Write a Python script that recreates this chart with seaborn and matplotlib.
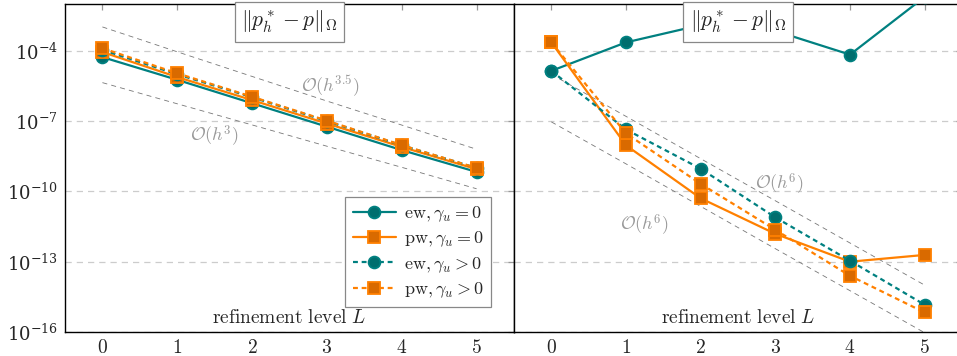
import numpy as np
import pandas as pd
import seaborn as sns
import matplotlib
matplotlib.use("Agg")
import matplotlib.pyplot as plt
from matplotlib.lines import Line2D
from matplotlib.ticker import LogFormatterMathtext, NullLocator, FuncFormatter

# ---------------- data ----------------
levels = [0, 1, 2, 3, 4, 5]
series_labels = [r"$\mathrm{ew},\gamma_u = 0$", r"$\mathrm{pw},\gamma_u = 0$",
                 r"$\mathrm{ew},\gamma_u > 0$", r"$\mathrm{pw},\gamma_u > 0$"]

# left panel
left_ew0 = [5.4e-5, 5.8e-6, 5.8e-7, 5.8e-8, 5.8e-9, 6.8e-10]
left_pw0 = [8.9e-5, 7.6e-6, 7.9e-7, 7.9e-8, 7.9e-9, 8.9e-10]
left_ewg = [1.1e-4, 1.0e-5, 1.05e-6, 1.0e-7, 9.3e-9, 1.0e-9]
left_pwg = [1.3e-4, 1.1e-5, 1.1e-6, 1.05e-7, 9.5e-9, 1.0e-9]
left_ref_upper = [1.05e-3, 9.1e-5, 8.1e-6, 7.2e-7, 6.8e-8, 6.3e-9]
left_ref_lower = [4.4e-6, 5.5e-7, 6.9e-8, 8.5e-9, 1.07e-9, 1.3e-10]
left_ref_texts = [r"$\mathcal{O}(h^{3.5})$", r"$\mathcal{O}(h^{3})$"]

# right panel
right_ew0 = [1.4e-5, 2.3e-4, 1.26e-3, 7.1e-4, 6.9e-5, 2.0e-2]
right_pw0 = [2.3e-4, 9.3e-9, 5.1e-11, 1.55e-12, 1.0e-13, 1.95e-13]
right_ewg = [1.4e-5, 4.4e-8, 9.3e-10, 7.8e-12, 1.1e-13, 1.45e-15]
right_pwg = [2.3e-4, 3.0e-8, 2.1e-10, 2.3e-12, 2.5e-14, 6.8e-16]
right_ref_upper = [1e-5, 1.6e-7, 2.5e-9, 4e-11, 6.3e-13, 1e-14]
right_ref_lower = [9.3e-8, 1.5e-9, 2.3e-11, 3.6e-13, 5.8e-15, 9.3e-17]
right_ref_texts = [r"$\mathcal{O}(h^{6})$", r"$\mathcal{O}(h^{6})$"]

title_text = r"$\|p_h^* - p\|_\Omega$"
xlabel_text = r"$\mathrm{refinement\ level}\ L$"
y_ticks = [1e-16, 1e-13, 1e-10, 1e-7, 1e-4]

# ---------------- style ----------------
sns.set_style("white")
plt.rcParams["mathtext.fontset"] = "cm"
plt.rcParams["font.family"] = ["DejaVu Serif"]
plt.rcParams["axes.unicode_minus"] = True

TEAL = "#008080"
TEAL_FACE = "#006e6e"
ORANGE = "#ff8000"
ORANGE_FACE = "#d96a00"
GREY_TXT = "#9a9a9a"

DASH = (0, (2.2, 1.7))
styles = [
    dict(color=TEAL, marker="o", mfc=TEAL_FACE, mec=TEAL, ms=8.5, ls="-"),
    dict(color=ORANGE, marker="s", mfc=ORANGE_FACE, mec=ORANGE, ms=8.5, ls="-"),
    dict(color=TEAL, marker="o", mfc=TEAL_FACE, mec=TEAL, ms=8.5, ls=DASH),
    dict(color=ORANGE, marker="s", mfc=ORANGE_FACE, mec=ORANGE, ms=8.5, ls=DASH),
]

W, H = 957, 356
fig = plt.figure(figsize=(W / 100, H / 100), dpi=100)
ax_l = fig.add_axes([65 / W, (H - 332) / H, 449 / W, 328 / H])
ax_r = fig.add_axes([514 / W, (H - 332) / H, 448 / W, 328 / H], sharey=ax_l)


def draw_panel(ax, data, refs, ref_texts, ref_text_pos):
    # reference slopes
    for ref in refs:
        ax.plot(levels, ref, color="#777777", lw=0.6, ls=(0, (6, 5)), zorder=2)
    for (txt, (x, y)) in zip(ref_texts, ref_text_pos):
        ax.text(x, y, txt, color=GREY_TXT, fontsize=13, ha="center", va="center", zorder=3)
    # series
    for vals, st, lab in zip(data, styles, series_labels):
        df = pd.DataFrame({"L": levels, "err": vals})
        sns.lineplot(data=df, x="L", y="err", ax=ax, color=st["color"], lw=1.6,
                     linestyle=st["ls"], marker=st["marker"], markersize=st["ms"],
                     markerfacecolor=st["mfc"], markeredgecolor=st["mec"],
                     markeredgewidth=1.3, label=lab, legend=False, zorder=4)
    ax.set_yscale("log")
    ax.set_ylim(1e-16, 1e-2)
    ax.set_xlim(-0.5, 5.5)
    ax.set_xticks(levels)
    ax.xaxis.set_major_formatter(FuncFormatter(lambda v, p: r"$%d$" % int(round(v))))
    ax.set_yticks(y_ticks)
    ax.yaxis.set_major_formatter(LogFormatterMathtext())
    ax.yaxis.set_minor_locator(NullLocator())
    ax.grid(axis="y", color="#cccccc", ls=(0, (5, 4)), lw=0.9)
    ax.grid(axis="x", visible=False)
    ax.set_xlabel("")
    ax.set_ylabel("")
    ax.tick_params(axis="both", which="both", direction="in", color="#999999",
                   length=4, width=0.9, top=True, right=True, labelsize=13, pad=5)
    ax.tick_params(axis="x", labelsize=14, pad=5)
    for s in ax.spines.values():
        s.set_color("black")
        s.set_linewidth(1.0)
    ax.text(0.5, 0.945, title_text, transform=ax.transAxes, ha="center", va="center",
            fontsize=15.5, zorder=10,
            bbox=dict(boxstyle="square,pad=0.3", fc="white", ec="#888888", lw=0.9))
    ax.text(0.5, 0.043, xlabel_text, transform=ax.transAxes, ha="center", va="center",
            fontsize=14, zorder=10)


draw_panel(ax_l, [left_ew0, left_pw0, left_ewg, left_pwg],
           [left_ref_upper, left_ref_lower], left_ref_texts,
           [(3.05, 10 ** -5.5), (1.5, 10 ** -7.65)])
draw_panel(ax_r, [right_ew0, right_pw0, right_ewg, right_pwg],
           [right_ref_upper, right_ref_lower], right_ref_texts,
           [(3.05, 10 ** -9.7), (1.25, 10 ** -11.45)])

ax_r.tick_params(axis="y", labelleft=False)

handles = [Line2D([], [], color=st["color"], lw=1.6, ls=st["ls"], marker=st["marker"],
                  ms=st["ms"], mfc=st["mfc"], mec=st["mec"], mew=1.3) for st in styles]
leg = ax_l.legend(handles, series_labels, loc="lower right",
                  bbox_to_anchor=(1 - 23 / 449, 25 / 328), borderaxespad=0,
                  fontsize=13, frameon=True, fancybox=False, framealpha=1,
                  edgecolor="#888888", handlelength=2.4, labelspacing=0.3,
                  handletextpad=0.45, borderpad=0.4)
leg.get_frame().set_linewidth(0.9)
leg.set_zorder(20)

fig.savefig("out.png", dpi=100)
